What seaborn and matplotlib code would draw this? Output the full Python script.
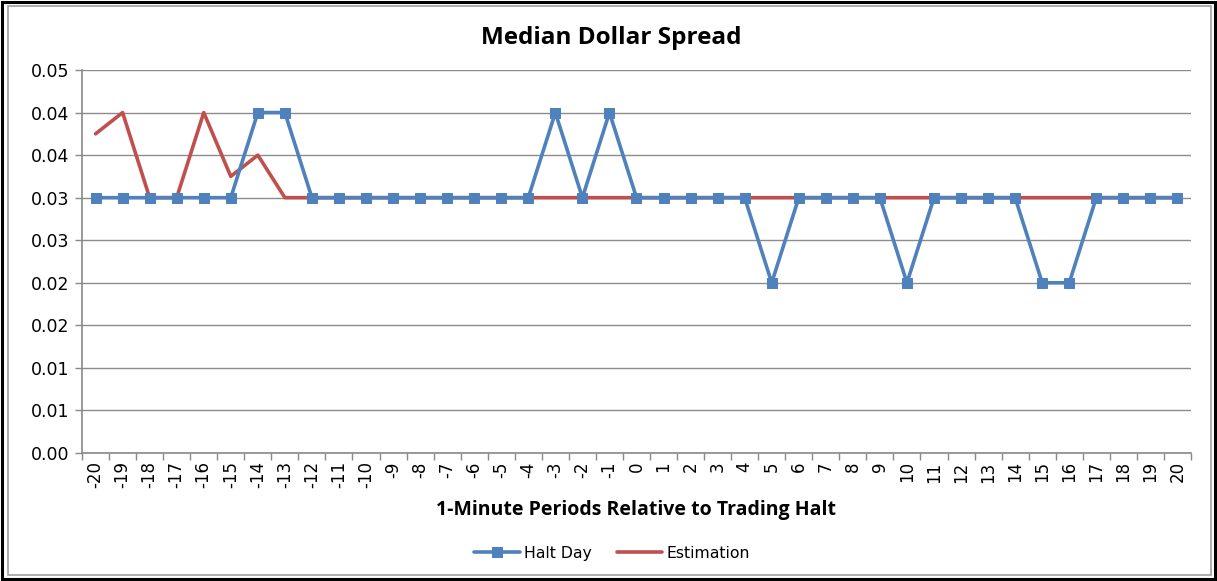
import matplotlib.pyplot as plt
import matplotlib.patches as patches
import pandas as pd
import numpy as np
import seaborn as sns

# Data
periods = list(range(-20, 21))
halt_day = [0.03, 0.03, 0.03, 0.03, 0.03, 0.03, 0.04, 0.04, 0.03, 0.03,
            0.03, 0.03, 0.03, 0.03, 0.03, 0.03, 0.03, 0.04, 0.03, 0.04,
            0.03, 0.03, 0.03, 0.03, 0.03, 0.02, 0.03, 0.03, 0.03, 0.03,
            0.02, 0.03, 0.03, 0.03, 0.03, 0.02, 0.02, 0.03, 0.03, 0.03,
            0.03]
estimation = [0.0375, 0.04, 0.03, 0.03, 0.04, 0.0325, 0.035, 0.03, 0.03, 0.03,
              0.03, 0.03, 0.03, 0.03, 0.03, 0.03, 0.03, 0.03, 0.03, 0.03,
              0.03, 0.03, 0.03, 0.03, 0.03, 0.03, 0.03, 0.03, 0.03, 0.03,
              0.03, 0.03, 0.03, 0.03, 0.03, 0.03, 0.03, 0.03, 0.03, 0.03,
              0.03]
ytick_values = [0.0, 0.005, 0.01, 0.015, 0.02, 0.025, 0.03, 0.035, 0.04, 0.045]
ytick_labels = ["0.00", "0.01", "0.01", "0.02", "0.02", "0.03", "0.03", "0.04", "0.04", "0.05"]

df = pd.DataFrame({"period": periods, "Halt Day": halt_day, "Estimation": estimation})

sns.set_style("white")
plt.rcParams['font.family'] = ['DejaVu Sans']
plt.rcParams['text.color'] = 'black'

fig = plt.figure(figsize=(12.17, 5.81), dpi=100)
ax = fig.add_axes([0.0674, 0.2203, 0.9112, 0.6592])

blue = "#4F81BD"
red = "#C0504D"

sns.lineplot(data=df, x="period", y="Estimation", ax=ax, color=red, linewidth=2.6,
             label="Estimation", zorder=3)
sns.lineplot(data=df, x="period", y="Halt Day", ax=ax, color=blue, linewidth=2.6,
             marker="s", markersize=7, markeredgecolor=blue, label="Halt Day", zorder=4)

ax.set_xlim(-20.5, 20.5)
ax.set_ylim(0, 0.045)
ax.set_yticks(ytick_values)
ax.set_yticklabels(ytick_labels, fontsize=12.5, color="black")
ax.set_xticks(periods)
ax.set_xticklabels([str(p) for p in periods], rotation=90, fontsize=12, color="black")
ax.set_xticks(np.arange(-20.5, 21, 1), minor=True)
ax.tick_params(axis="x", which="major", length=0, pad=6)
ax.tick_params(axis="x", which="minor", length=5, color="#898989", width=1, direction="out")
ax.tick_params(axis="y", length=5, color="#898989", width=1, direction="out", pad=4)
ax.tick_params(bottom=True, left=True, which="both")

ax.grid(axis="y", color="#8C8C8C", linewidth=1)
ax.set_axisbelow(True)
for s in ["top", "right"]:
    ax.spines[s].set_visible(False)
for s in ["left", "bottom"]:
    ax.spines[s].set_color("#898989")
    ax.spines[s].set_linewidth(1.2)

ax.set_title("Median Dollar Spread", fontsize=17.5, fontweight="bold",
             family="Open Sans", pad=19, color="black", x=0.477)
ax.set_xlabel("1-Minute Periods Relative to Trading Halt", fontsize=14,
              fontweight="bold", family="Open Sans", labelpad=8, color="black")
ax.set_ylabel("")

ax.legend_.remove()
handles, labels = ax.get_legend_handles_labels()
order = [labels.index("Halt Day"), labels.index("Estimation")]
fig.legend([handles[i] for i in order], [labels[i] for i in order],
           loc="center", bbox_to_anchor=(0.503, 0.048), ncol=2, frameon=False,
           fontsize=11.3, handlelength=2.9, handletextpad=0.25, columnspacing=1.6)

# Double frame around the chart
fig.patches.append(patches.Rectangle((0.002, 0.003), 0.996, 0.993, transform=fig.transFigure,
                                     fill=False, edgecolor="black", linewidth=2.2))
fig.patches.append(patches.Rectangle((0.0065, 0.0095), 0.9885, 0.98, transform=fig.transFigure,
                                     fill=False, edgecolor="#A0A0A0", linewidth=1.2))

fig.savefig("out.png", dpi=100)
